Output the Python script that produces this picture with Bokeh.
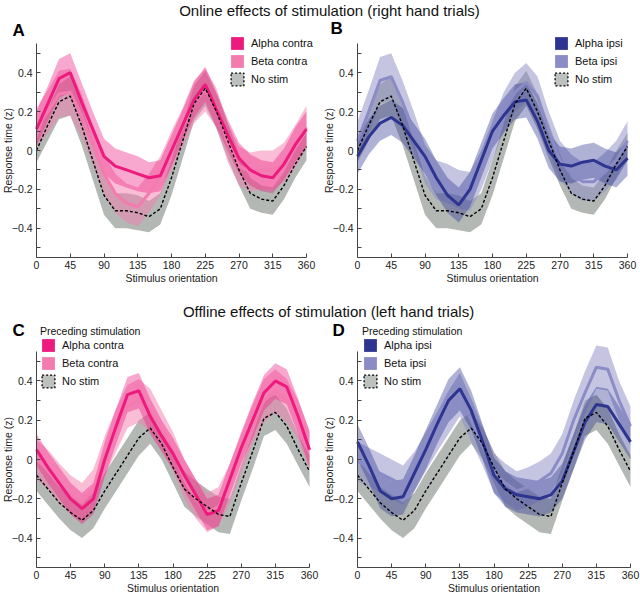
import numpy as np
from bokeh.plotting import figure
from bokeh.models import Legend, LegendItem, Label, FixedTicker, ColumnDataSource, Range1d
from bokeh.layouts import column, row
from bokeh.embed import file_html
from bokeh.resources import INLINE

FONT = "Liberation Sans"

# ---------------- data ----------------
angles = [0, 15, 30, 45, 60, 75, 90, 105, 120, 135, 150, 165, 180,
          195, 210, 225, 240, 255, 270, 285, 300, 315, 330, 345, 360]
x_ticks = [0, 45, 90, 135, 180, 225, 270, 315, 360]
y_ticks = [-0.4, -0.2, 0, 0.2, 0.4]
y_minor = [-0.5, -0.3, -0.1, 0.1, 0.3, 0.5]

titles = ["Online effects of stimulation (right hand trials)",
          "Offline effects of stimulation (left hand trials)"]

# right hand trials (A, B)
nostim_right = [0.00, 0.13, 0.25, 0.28, 0.13, -0.05, -0.23, -0.31, -0.31, -0.32, -0.34, -0.30, -0.14,
                0.05, 0.24, 0.32, 0.20, 0.05, -0.10, -0.22, -0.25, -0.26, -0.18, -0.07, 0.02]
nostim_right_sem = [0.06, 0.08, 0.09, 0.10, 0.10, 0.10, 0.10, 0.09, 0.09, 0.09, 0.08, 0.08, 0.09,
                    0.09, 0.09, 0.09, 0.09, 0.09, 0.08, 0.08, 0.07, 0.07, 0.07, 0.07, 0.07]
alpha_contra_on = [0.11, 0.24, 0.37, 0.40, 0.25, 0.11, -0.03, -0.08, -0.10, -0.12, -0.14, -0.13, 0.00,
                   0.13, 0.26, 0.34, 0.21, 0.08, -0.04, -0.10, -0.13, -0.14, -0.07, 0.03, 0.11]
alpha_contra_on_sem = [0.09, 0.09, 0.10, 0.10, 0.10, 0.09, 0.09, 0.09, 0.09, 0.09, 0.08, 0.08, 0.08,
                       0.08, 0.09, 0.09, 0.09, 0.08, 0.08, 0.08, 0.08, 0.08, 0.08, 0.09, 0.09]
beta_contra_on = [0.12, 0.20, 0.29, 0.30, 0.18, 0.03, -0.12, -0.22, -0.27, -0.29, -0.22, -0.13, 0.00,
                  0.12, 0.25, 0.31, 0.22, 0.04, -0.08, -0.11, -0.10, -0.10, -0.06, 0.02, 0.12]
beta_contra_on_sem = [0.10, 0.11, 0.12, 0.12, 0.11, 0.10, 0.10, 0.10, 0.10, 0.10, 0.10, 0.10, 0.10,
                      0.10, 0.11, 0.11, 0.10, 0.10, 0.10, 0.10, 0.10, 0.10, 0.10, 0.11, 0.11]
alpha_ipsi_on = [-0.03, 0.07, 0.14, 0.17, 0.13, 0.05, -0.03, -0.14, -0.23, -0.28, -0.20, -0.05, 0.10,
                 0.18, 0.25, 0.26, 0.15, 0.00, -0.07, -0.08, -0.06, -0.05, -0.08, -0.10, -0.04]
alpha_ipsi_on_sem = [0.09, 0.09, 0.09, 0.09, 0.09, 0.09, 0.09, 0.09, 0.09, 0.09, 0.09, 0.09, 0.09,
                     0.09, 0.09, 0.09, 0.09, 0.09, 0.09, 0.09, 0.09, 0.09, 0.09, 0.09, 0.09]
beta_ipsi_on = [0.05, 0.20, 0.36, 0.38, 0.25, 0.10, -0.07, -0.15, -0.17, -0.20, -0.21, -0.10, 0.05,
                0.20, 0.30, 0.35, 0.28, 0.10, -0.05, -0.12, -0.16, -0.16, -0.11, -0.05, 0.05]
beta_ipsi_on_sem = [0.10, 0.11, 0.12, 0.12, 0.11, 0.10, 0.10, 0.10, 0.10, 0.10, 0.10, 0.10, 0.10,
                    0.10, 0.10, 0.10, 0.10, 0.10, 0.10, 0.10, 0.10, 0.10, 0.10, 0.10, 0.10]

# left hand trials (C, D)
nostim_left = [-0.08, -0.15, -0.22, -0.27, -0.31, -0.26, -0.16, -0.07, 0.02, 0.11, 0.16, 0.08, -0.04,
               -0.15, -0.20, -0.24, -0.28, -0.29, -0.12, 0.04, 0.21, 0.24, 0.17, 0.05, -0.06]
nostim_left_sem = [0.08, 0.08, 0.08, 0.09, 0.09, 0.09, 0.09, 0.09, 0.09, 0.09, 0.08, 0.08, 0.08,
                   0.09, 0.09, 0.09, 0.09, 0.09, 0.09, 0.09, 0.09, 0.09, 0.09, 0.08, 0.08]
alpha_contra_off = [0.05, -0.04, -0.12, -0.20, -0.25, -0.20, 0.00, 0.17, 0.33, 0.35, 0.22, 0.12, 0.03,
                    -0.08, -0.18, -0.28, -0.26, -0.10, 0.06, 0.20, 0.34, 0.40, 0.37, 0.22, 0.05]
alpha_contra_off_sem = [0.08, 0.08, 0.08, 0.08, 0.08, 0.08, 0.09, 0.09, 0.09, 0.09, 0.09, 0.08, 0.08,
                        0.08, 0.08, 0.08, 0.08, 0.08, 0.08, 0.09, 0.09, 0.09, 0.09, 0.09, 0.09]
beta_contra_off = [0.00, -0.05, -0.12, -0.18, -0.22, -0.15, 0.02, 0.15, 0.27, 0.30, 0.25, 0.15, 0.04,
                   -0.10, -0.20, -0.27, -0.24, -0.12, 0.03, 0.18, 0.30, 0.35, 0.30, 0.20, 0.05]
beta_contra_off_sem = [0.10, 0.10, 0.10, 0.10, 0.10, 0.10, 0.10, 0.11, 0.11, 0.11, 0.11, 0.10, 0.10,
                       0.10, 0.10, 0.10, 0.10, 0.10, 0.10, 0.10, 0.11, 0.11, 0.11, 0.10, 0.10]
alpha_ipsi_off = [0.09, -0.03, -0.16, -0.20, -0.19, -0.07, 0.05, 0.18, 0.30, 0.36, 0.25, 0.09, -0.08,
                  -0.15, -0.18, -0.19, -0.20, -0.18, -0.11, 0.04, 0.19, 0.28, 0.27, 0.18, 0.09]
alpha_ipsi_off_sem = [0.09, 0.09, 0.09, 0.09, 0.09, 0.09, 0.10, 0.10, 0.11, 0.11, 0.10, 0.09, 0.09,
                      0.09, 0.09, 0.09, 0.09, 0.09, 0.09, 0.09, 0.09, 0.09, 0.09, 0.09, 0.09]
beta_ipsi_off = [-0.01, -0.04, -0.07, -0.10, -0.13, -0.06, 0.04, 0.14, 0.24, 0.33, 0.20, 0.07, -0.07,
                 -0.12, -0.16, -0.14, -0.11, -0.07, 0.03, 0.20, 0.34, 0.47, 0.46, 0.30, 0.17]
beta_ipsi_off_sem = [0.10, 0.10, 0.10, 0.10, 0.10, 0.10, 0.10, 0.10, 0.11, 0.11, 0.11, 0.10, 0.10,
                     0.10, 0.10, 0.10, 0.10, 0.10, 0.10, 0.10, 0.11, 0.11, 0.11, 0.10, 0.10]

# ---------------- style ----------------
PINK_A = "#EC1B7D"
PINK_B = "#F47BAE"
BLUE_A = "#2E3590"
BLUE_B = "#8B8BC6"
GRAY_BAND = "#969C98"
GRAY_LEG = "#BDC1BE"
AXIS_COL = "#444444"

X0, X1 = 0.0, 360.0
Y0, Y1 = -0.55, 0.55


def band_source(mean, sem):
    m = np.array(mean)
    s = np.array(sem)
    return ColumnDataSource(dict(x=angles, y=m, lo=m - s, hi=m + s))


def make_panel(letter, ns, ns_sem, a, a_sem, b, b_sem, col_a, col_b, names, legend_title,
               W, H, px0, px1, py_top, py_bot, leg_left, leg_top, leg_h, let_x, let_top):
    # frame covers the whole figure; axis area given in pixels from top-left
    xs = (X1 - X0) / (px1 - px0)
    ys = (Y1 - Y0) / (py_bot - py_top)
    xr = Range1d(X0 - px0 * xs, X1 + (W - px1) * xs)
    yr = Range1d(Y0 - (H - py_bot) * ys, Y1 + py_top * ys)
    p = figure(width=W, height=H, x_range=xr, y_range=yr, output_backend="svg",
               toolbar_location=None, min_border=0)
    p.outline_line_color = None
    p.grid.visible = False
    p.background_fill_color = None
    p.border_fill_color = None

    s_ns = band_source(ns, ns_sem)
    s_a = band_source(a, a_sem)
    s_b = band_source(b, b_sem)

    p.varea(x="x", y1="lo", y2="hi", source=s_ns, fill_color=GRAY_BAND, fill_alpha=0.72)
    p.varea(x="x", y1="lo", y2="hi", source=s_b, fill_color=col_b, fill_alpha=0.5)
    p.varea(x="x", y1="lo", y2="hi", source=s_a, fill_color=col_a, fill_alpha=0.38)
    p.line(x="x", y="y", source=s_b, line_color=col_b, line_width=3)
    p.line(x="x", y="y", source=s_a, line_color=col_a, line_width=3)
    p.line(x="x", y="y", source=s_ns, line_color="black", line_width=1.4, line_dash="3 2")

    # legend swatches
    nan = [np.nan]
    r_a = p.quad(left=nan, right=nan, top=nan, bottom=nan, fill_color=col_a, line_color=None)
    r_b = p.quad(left=nan, right=nan, top=nan, bottom=nan, fill_color=col_b, line_color=None)
    r_n = p.quad(left=nan, right=nan, top=nan, bottom=nan, fill_color=GRAY_LEG,
                 line_color="black", line_width=1.3, line_dash="2 2")
    leg = Legend(items=[LegendItem(label=names[0], renderers=[r_a]),
                        LegendItem(label=names[1], renderers=[r_b]),
                        LegendItem(label="No stim", renderers=[r_n])],
                 location=(leg_left, H - leg_top - leg_h), glyph_width=16, glyph_height=16,
                 label_height=16, spacing=2, padding=0, margin=0, label_standoff=6,
                 label_text_font=FONT, label_text_font_size="11px", label_text_color="#111111",
                 background_fill_alpha=0, border_line_alpha=0)
    if legend_title:
        leg.title = legend_title
        leg.title_text_font = FONT
        leg.title_text_font_size = "10.5px"
        leg.title_text_font_style = "normal"
        leg.title_text_color = "#111111"
        leg.title_standoff = 0
    p.add_layout(leg)

    p.add_layout(Label(x=let_x, y=H - let_top, x_units="screen", y_units="screen", text=letter,
                       text_font=FONT, text_font_size="17px", text_font_style="bold",
                       text_baseline="middle", text_align="left", text_color="black"))

    for ax in (p.xaxis, p.yaxis):
        ax.axis_line_color = AXIS_COL
        ax.major_tick_line_color = AXIS_COL
        ax.minor_tick_line_color = AXIS_COL
        ax.major_tick_in = 4
        ax.major_tick_out = 0
        ax.minor_tick_in = 4
        ax.minor_tick_out = 0
        ax.major_label_text_font = FONT
        ax.major_label_text_font_size = "10.5px"
        ax.major_label_text_color = "#222222"
        ax.axis_label_text_font = FONT
        ax.axis_label_text_font_size = "10.5px"
        ax.axis_label_text_font_style = "normal"
        ax.axis_label_text_color = "#222222"
    p.xaxis.fixed_location = Y0
    p.yaxis.fixed_location = X0
    p.xaxis.bounds = (X0, X1)
    p.yaxis.bounds = (Y0, Y1)
    p.xaxis.ticker = FixedTicker(ticks=x_ticks)
    p.xaxis.minor_tick_line_color = None
    p.yaxis.ticker = FixedTicker(ticks=y_ticks, minor_ticks=y_minor)
    p.yaxis.major_label_overrides = {0: "0"}
    p.xaxis.major_label_standoff = 3
    p.yaxis.major_label_standoff = 4
    p.xaxis.axis_label_standoff = 0
    p.yaxis.axis_label_standoff = -5
    p.xaxis.axis_label = "Stimulus orientation"
    p.yaxis.axis_label = "Response time (z)"
    return p


def title_fig(text, width, height, tx, ty):
    t = figure(width=width, height=height, x_range=Range1d(0, 1), y_range=Range1d(0, 1),
               output_backend="svg", toolbar_location=None, min_border=0,
               x_axis_location=None, y_axis_location=None)
    t.outline_line_color = None
    t.grid.visible = False
    t.add_layout(Label(x=tx, y=ty, x_units="screen", y_units="screen", text=text,
                       text_font=FONT, text_font_size="15px", text_align="center",
                       text_baseline="middle", text_color="#111111"))
    return t


pA = make_panel("A", nostim_right, nostim_right_sem, alpha_contra_on, alpha_contra_on_sem,
                beta_contra_on, beta_contra_on_sem, PINK_A, PINK_B, ["Alpha contra", "Beta contra"],
                None, 320, 277, 36, 306, 23, 237, 229, 15, 52, 12, 10)
pB = make_panel("B", nostim_right, nostim_right_sem, alpha_ipsi_on, alpha_ipsi_on_sem,
                beta_ipsi_on, beta_ipsi_on_sem, BLUE_A, BLUE_B, ["Alpha ipsi", "Beta ipsi"],
                None, 320, 277, 37, 307, 23, 237, 233, 15, 52, 10, 8)
pC = make_panel("C", nostim_left, nostim_left_sem, alpha_contra_off, alpha_contra_off_sem,
                beta_contra_off, beta_contra_off_sem, PINK_A, PINK_B, ["Alpha contra", "Beta contra"],
                "Preceding stimulation", 320, 271, 36, 309, 29, 245, 40, 3, 64, 12, 8)
pD = make_panel("D", nostim_left, nostim_left_sem, alpha_ipsi_off, alpha_ipsi_off_sem,
                beta_ipsi_off, beta_ipsi_off_sem, BLUE_A, BLUE_B, ["Alpha ipsi", "Beta ipsi"],
                "Preceding stimulation", 320, 271, 37, 310, 29, 245, 42, 3, 64, 12, 8)

t1 = title_fig(titles[0], 640, 20, 329, 10)
t2 = title_fig(titles[1], 640, 25, 328, 11)

layout = column(t1, row(pA, pB), t2, row(pC, pD), spacing=0)
open("out.html", "w").write(file_html(layout, INLINE))
